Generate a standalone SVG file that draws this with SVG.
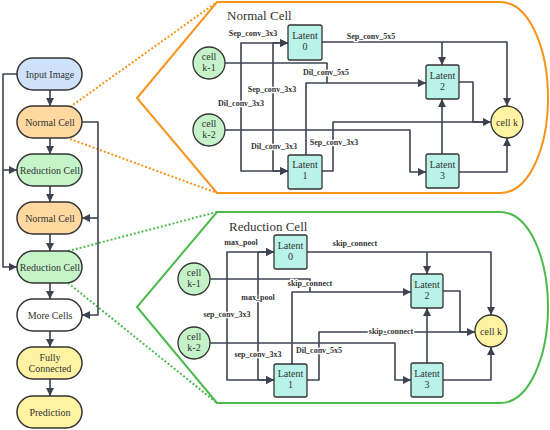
<svg xmlns="http://www.w3.org/2000/svg" width="550" height="430" viewBox="0 0 550 430">
<style>
text{font-family:"Liberation Serif","Times New Roman",serif;fill:#333;text-anchor:middle}
.pill{stroke:#333;stroke-width:1.5}
.t{font-size:10px}
.lbl{font-size:8px;font-weight:bold;paint-order:stroke;stroke:#fff;stroke-width:2.5px}
.ttl{font-size:13px;text-anchor:start}
.c{fill:none;stroke:#3c4350;stroke-width:1.6;stroke-linejoin:round}
.ca{fill:none;stroke:#3c4350;stroke-width:1.6;stroke-linejoin:round;marker-end:url(#a)}
.lat{fill:#b8f2e8;stroke:#333;stroke-width:1.3}
.in{fill:#c6f2c9;stroke:#333;stroke-width:1.3}
.out{fill:#fff3a3;stroke:#333;stroke-width:1.3}
</style>
<defs>
<marker id="a" viewBox="0 0 10 10" refX="10" refY="5" markerWidth="8" markerHeight="8" markerUnits="userSpaceOnUse" orient="auto"><path d="M0,0 L10,5 L0,10 z" fill="#3c4350"/></marker>
</defs>
<rect width="550" height="430" fill="#fff"/>

<g id="zoom-lines">
<path d="M70,107 L217,2 M70,139 L217,193" stroke="#f7941d" stroke-width="2" stroke-dasharray="2,2" fill="none"/>
<path d="M68,251 L217,212 M68,283 L217,403" stroke="#4cbb4c" stroke-width="2" stroke-dasharray="2,2" fill="none"/>
</g>

<g id="normal-cell-frame">
<path d="M217,2 H500 C530,2 548,50 548,98 C548,146 530,193 500,193 H217 L137,98 Z" fill="#fff" stroke="#f7941d" stroke-width="2"/>
<text class="ttl" x="227" y="20">Normal Cell</text>
</g>
<g id="reduction-cell-frame">
<path d="M217,212 H500 C530,212 548,260 548,307 C548,355 530,403 500,403 H217 L137,307 Z" fill="#fff" stroke="#4cbb4c" stroke-width="2"/>
<text class="ttl" x="229" y="231">Reduction Cell</text>
</g>

<g id="connectors">
<!-- left column -->
<path class="ca" d="M50,90 V106"/>
<path class="ca" d="M50,138 V154"/>
<path class="ca" d="M50,186 V202"/>
<path class="ca" d="M50,234 V251"/>
<path class="ca" d="M50,283 V299"/>
<path class="ca" d="M50,331 V347"/>
<path class="ca" d="M50,379 V396"/>
<path class="ca" d="M17,74 H3 V267 H17"/>
<path class="ca" d="M3,170 H17"/>
<path class="ca" d="M82,122 H98 V315 H82"/>
<path class="ca" d="M98,218 H82"/>
<!-- normal cell -->
<path class="c" d="M225,63 H327 V83"/>
<path class="ca" d="M306,155 V83 H426"/>
<path class="ca" d="M241,63 V43 H288"/>
<path class="ca" d="M241,63 V171 H288"/>
<path class="ca" d="M273,130 V43 H288"/>
<path class="ca" d="M273,130 V171 H288"/>
<path class="ca" d="M225,130 H410 V172 H426"/>
<path class="ca" d="M322,42 H507 V106"/>
<path class="ca" d="M442,42 V65"/>
<path class="ca" d="M322,171 H333 V122 H491"/>
<path class="c" d="M458,82 H473 V122 H485"/>
<path class="ca" d="M442,154 V99"/>
<path class="ca" d="M458,172 H507 V138"/>
<!-- reduction cell -->
<path class="c" d="M210,279 H310 V292"/>
<path class="ca" d="M292,364 V292 H411"/>
<path class="ca" d="M227,279 V252 H274"/>
<path class="ca" d="M227,279 V380 H274"/>
<path class="ca" d="M258,343 V252 H274"/>
<path class="ca" d="M258,343 V380 H274"/>
<path class="ca" d="M210,343 H395 V380 H411"/>
<path class="ca" d="M307,380 H319 V332 H475"/>
<path class="ca" d="M307,252 H491 V315"/>
<path class="ca" d="M427,252 V274"/>
<path class="c" d="M443,291 H460 V332 H470"/>
<path class="ca" d="M427,363 V308"/>
<path class="ca" d="M443,380 H491 V347"/>
</g>

<g id="labels-normal">
<text class="lbl" x="253" y="36">Sep_conv_3x3</text>
<text class="lbl" x="371" y="39">Sep_conv_5x5</text>
<text class="lbl" x="326" y="75">Dil_conv_5x5</text>
<text class="lbl" x="272" y="92">Sep_conv_3x3</text>
<text class="lbl" x="241" y="106">Dil_conv_3x3</text>
<text class="lbl" x="274" y="149">Dil_conv_3x3</text>
<text class="lbl" x="334" y="145">Sep_conv_3x3</text>
</g>
<g id="labels-reduction">
<text class="lbl" x="241" y="245">max_pool</text>
<text class="lbl" x="355" y="246">skip_connect</text>
<text class="lbl" x="310" y="286">skip_connect</text>
<text class="lbl" x="258" y="300">max_pool</text>
<text class="lbl" x="227" y="317">sep_conv_3x3</text>
<text class="lbl" x="391" y="334">skip_connect</text>
<text class="lbl" x="258" y="357">sep_conv_3x3</text>
<text class="lbl" x="319" y="353">Dil_conv_5x5</text>
</g>

<g id="input-image"><rect class="pill" x="17" y="58" width="65" height="32" rx="16" fill="#cfe2fb"/><text class="t" x="50" y="77.5">Input Image</text></g>
<g id="normal-cell-1"><rect class="pill" x="17" y="106" width="65" height="32" rx="16" fill="#ffd9a0"/><text class="t" x="50" y="125.5">Normal Cell</text></g>
<g id="reduction-cell-1"><rect class="pill" x="17" y="154" width="65" height="32" rx="16" fill="#c6f4c9"/><text class="t" x="50" y="173.5">Reduction Cell</text></g>
<g id="normal-cell-2"><rect class="pill" x="17" y="202" width="65" height="32" rx="16" fill="#ffd9a0"/><text class="t" x="50" y="221.5">Normal Cell</text></g>
<g id="reduction-cell-2"><rect class="pill" x="17" y="251" width="65" height="32" rx="16" fill="#c6f4c9"/><text class="t" x="50" y="270.5">Reduction Cell</text></g>
<g id="more-cells"><rect class="pill" x="17" y="299" width="65" height="32" rx="16" fill="#fff"/><text class="t" x="50" y="318.5">More Cells</text></g>
<g id="fully-connected"><rect class="pill" x="17" y="347" width="65" height="32" rx="16" fill="#fff3a3"/><text class="t" x="50" y="361">Fully</text><text class="t" x="50" y="372">Connected</text></g>
<g id="prediction"><rect class="pill" x="17" y="396" width="65" height="32" rx="16" fill="#fff3a3"/><text class="t" x="50" y="415.5">Prediction</text></g>

<g id="n-cell-k-1"><circle class="in" cx="209" cy="63" r="16"/><text class="t" x="209" y="60">cell</text><text class="t" x="209" y="71">k-1</text></g>
<g id="n-cell-k-2"><circle class="in" cx="209" cy="130" r="16"/><text class="t" x="209" y="127">cell</text><text class="t" x="209" y="138">k-2</text></g>
<g id="n-latent-0"><rect class="lat" x="288" y="25" width="34" height="35" rx="2"/><text class="t" x="305" y="39">Latent</text><text class="t" x="305" y="50">0</text></g>
<g id="n-latent-1"><rect class="lat" x="288" y="155" width="34" height="34" rx="2"/><text class="t" x="305" y="168">Latent</text><text class="t" x="305" y="179">1</text></g>
<g id="n-latent-2"><rect class="lat" x="426" y="65" width="33" height="34" rx="2"/><text class="t" x="442.5" y="79">Latent</text><text class="t" x="442.5" y="90">2</text></g>
<g id="n-latent-3"><rect class="lat" x="426" y="154" width="33" height="34" rx="2"/><text class="t" x="442.5" y="168">Latent</text><text class="t" x="442.5" y="179">3</text></g>
<g id="n-cell-k"><circle class="out" cx="507" cy="122" r="16"/><text class="t" x="507" y="125.5">cell k</text></g>

<g id="r-cell-k-1"><circle class="in" cx="194" cy="279" r="16"/><text class="t" x="194" y="276">cell</text><text class="t" x="194" y="287">k-1</text></g>
<g id="r-cell-k-2"><circle class="in" cx="194" cy="343" r="16"/><text class="t" x="194" y="340">cell</text><text class="t" x="194" y="351">k-2</text></g>
<g id="r-latent-0"><rect class="lat" x="274" y="235" width="33" height="34" rx="2"/><text class="t" x="290.5" y="249">Latent</text><text class="t" x="290.5" y="260">0</text></g>
<g id="r-latent-1"><rect class="lat" x="274" y="364" width="33" height="33" rx="2"/><text class="t" x="290.5" y="377">Latent</text><text class="t" x="290.5" y="388">1</text></g>
<g id="r-latent-2"><rect class="lat" x="411" y="274" width="32" height="34" rx="2"/><text class="t" x="427" y="288">Latent</text><text class="t" x="427" y="299">2</text></g>
<g id="r-latent-3"><rect class="lat" x="411" y="363" width="32" height="34" rx="2"/><text class="t" x="427" y="377">Latent</text><text class="t" x="427" y="388">3</text></g>
<g id="r-cell-k"><circle class="out" cx="491" cy="331" r="16"/><text class="t" x="491" y="334.5">cell k</text></g>
</svg>
